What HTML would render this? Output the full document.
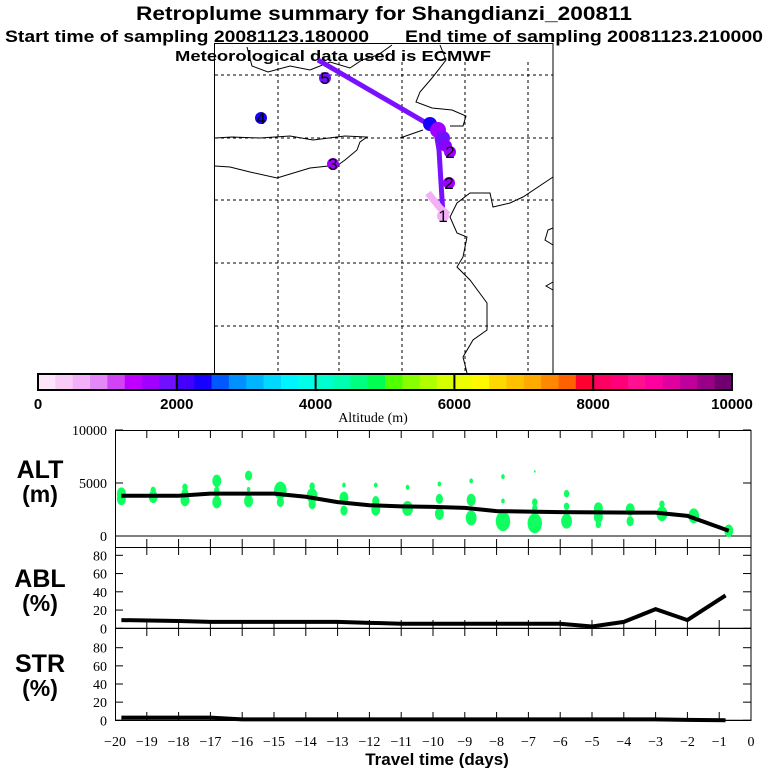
<!DOCTYPE html>
<html><head><meta charset="utf-8"><style>
html,body{margin:0;padding:0;background:#fff;}
svg{display:block;}
text{font-family:"Liberation Sans",sans-serif;}
.ser{font-family:"Liberation Serif",serif;font-size:14px;}
</style></head><body>
<svg id="chart" width="768" height="768" viewBox="0 0 768 768">
<g>
<text x="384" y="20" text-anchor="middle" font-size="19" font-weight="bold" textLength="496" lengthAdjust="spacingAndGlyphs">Retroplume summary for Shangdianzi_200811</text>
<text x="5" y="42" font-size="17" font-weight="bold" textLength="364" lengthAdjust="spacingAndGlyphs">Start time of sampling 20081123.180000</text>
<text x="405" y="42" font-size="17" font-weight="bold" textLength="358" lengthAdjust="spacingAndGlyphs">End time of sampling 20081123.210000</text>
<text x="333" y="61" text-anchor="middle" font-size="15" font-weight="bold" textLength="316" lengthAdjust="spacingAndGlyphs">Meteorological data used is ECMWF</text>
</g>
<g id="map"></g>
<g id="cbar"></g>
<g id="alt"></g>
<g id="abl"></g>
<g id="str"></g>
<g id="xaxis"></g>
</svg>
<script>
// ---- data ----
const days = [-20,-19,-18,-17,-16,-15,-14,-13,-12,-11,-10,-9,-8,-7,-6,-5,-4,-3,-2,-1,0];
const altTicks = [0,5000,10000];
const pctTicks = [0,20,40,60,80];
const altLineDays = [-19.8,-18,-17,-15,-14,-13,-12,-11,-10,-9,-8,-7,-6,-3,-2,-0.7];
const altLineVals = [3800,3800,4000,4000,3700,3200,2900,2800,2750,2650,2350,2300,2250,2200,1900,500];
const ablDays = [-19.8,-18,-17,-14,-13,-12,-11,-10,-8,-6,-5,-4,-3,-2,-0.8];
const ablVals = [9,8,7,7,7,6,5,5,5,5,2,7,21,9,36];
const strDays = [-19.8,-17,-16,-3,-2,-0.8];
const strVals = [3,3,1,1,0.5,0];
const dotDays = [-19.8,-19.8,-18.8,-18.8,-17.8,-17.8,-17.8,-16.8,-16.8,-16.8,-16.8,-15.8,-15.8,-15.8,-14.8,-14.8,-13.8,-13.8,-13.8,-12.8,-12.8,-12.8,-11.8,-11.8,-11.8,-10.8,-10.8,-9.8,-9.8,-9.8,-8.8,-8.8,-8.8,-7.8,-7.8,-7.8,-6.8,-6.8,-6.8,-6.8,-5.8,-5.8,-5.8,-4.8,-4.8,-4.8,-3.8,-3.8,-2.8,-2.8,-1.8,-0.7];
const dotAlts = [3500,4000,3700,4300,3400,4000,4600,5200,4300,3200,4000,5700,3300,4400,4300,3200,4700,3800,3000,4800,3600,2400,4800,3300,2500,4600,2600,4900,3500,2100,5200,3400,1700,5600,3300,1400,6100,3200,2600,1200,4000,2800,1400,2600,1800,1100,2500,1400,3000,2100,1900,500];
const dotSizes = [5,5,5,3,5,4,3,5,3,5,3,4,5,2,7,4,3,6,4,2,5,4,2,4,5,2,6,2,4,5,2,5,6,2,2,8,1,3,3,8,3,3,6,5,5,3,5,4,3,6,6,5];
const cbarLabels = [0,2000,4000,6000,8000,10000];
const cbarColors = ["#fde6fa","#f9ccf8","#f3b0f9","#e488f8","#d044f5","#c000ff","#a000ff","#7010ff","#4400ff","#1800ff","#0058ff","#0090ff","#00b4ff","#00d8ff","#00f4ff","#00ffe8","#00ffd0","#00ffb0","#00ff80","#00ff50","#50ff00","#88ff00","#b0ff00","#d8ff00","#ecff00","#fff800","#ffd800","#ffc000","#ffaa00","#ff8800","#ff6000","#ff0030","#ff0060","#ff0078","#ff1090","#ff00a0","#e000a0","#c0009a","#980088","#700070"];

const NS="http://www.w3.org/2000/svg";
function mk(parent,tag,attrs){const e=document.createElementNS(NS,tag);for(const k in attrs)e.setAttribute(k,attrs[k]);parent.appendChild(e);return e;}
function txt(parent,x,y,s,attrs){const t=mk(parent,'text',Object.assign({x:x,y:y},attrs));t.textContent=s;return t;}

const xS = d => 751 + d*31.8;
const yAlt = v => 536 - v*0.0106;
const yAbl = v => 628.3 - v*0.9125;
const yStr = v => 720.3 - v*0.9075;

// ---- map ----
const map=document.getElementById('map');
let el;
el=mk(map,'rect',{x:214.5,y:43.5,width:338.5,height:330,fill:'none',stroke:'#000','stroke-width':1});


[278,339,402,465,528].forEach(x=>{el=mk(map,'line',{x1:x,y1:62,x2:x,y2:373,stroke:'#000','stroke-dasharray':'3,3'});

});
[75,138,200,263,326].forEach(y=>{el=mk(map,'line',{x1:215,y1:y,x2:553,y2:y,stroke:'#000','stroke-dasharray':'3,3'});

});
const coasts=[
"247,47 252,66 268,72 290,66 310,70 330,62 350,68 362,60 378,55 392,45",
"440,45 446,60 432,78 420,92 416,102 432,108 452,110 466,116 463,126 450,126",
"215,138 232,137 260,138 290,136 313,140 345,136 367,137 360,142 357,150 345,160 338,165 310,168 277,178 250,172 230,167 215,166",
"400,138 423,130",
"553,177 523,197 510,203 493,207 490,193 470,193 457,203 450,217 457,233 467,237 463,257 457,267 470,280 487,303 487,330 473,340 463,357 467,373",
"553,245 545,240 548,230 553,228",
"553,282 546,286 553,290"];
coasts.forEach(p=>{el=mk(map,'polyline',{points:p,fill:'none',stroke:'#000','stroke-width':1});

});
el=mk(map,'polyline',{points:"318,60 428,124 436,132 439,150 443,215",fill:'none',stroke:'#7a10ff','stroke-width':5});


el=mk(map,'polyline',{points:"428,193 440,208 448,215",fill:'none',stroke:'#f3b0f9','stroke-width':7});


const cl=[[430,124,'#1800ff',7],[438,130,'#a000ff',8],[443,138,'#7010ff',7],[446,146,'#8a00ff',6]];
cl.forEach(c=>{el=mk(map,'circle',{cx:c[0],cy:c[1],r:c[3],fill:c[2]});

});
const markers=[[325,78,'5','#7010ff'],[261,118,'4','#1800ff'],[333,164,'3','#a000ff'],[450,152,'2','#a000ff'],[449,183,'2','#a000ff'],[443,216,'1','#f3b0f9']];
markers.forEach(m=>{el=mk(map,'circle',{cx:m[0],cy:m[1],r:6,fill:m[3]});


el=txt(map,m[0],m[1]+6,m[2],{'text-anchor':'middle','font-size':17,fill:'#000'});

});

// ---- colorbar ----
const cb=document.getElementById('cbar');
const cbx=38, cbw=694/40;
cbarColors.forEach((c,i)=>{el=mk(cb,'rect',{x:cbx+i*cbw,y:374,width:cbw+0.5,height:16,fill:c});

});
el=mk(cb,'rect',{x:cbx,y:374,width:694,height:16,fill:'none',stroke:'#000','stroke-width':2});


cbarLabels.forEach((v,i)=>{const x=cbx+v/10000*694;
if(i>0&&i<5){el=mk(cb,'line',{x1:x,y1:374,x2:x,y2:390,stroke:'#000','stroke-width':2});

}
el=txt(cb,x,409,String(v),{'text-anchor':'middle','font-size':15,'font-weight':'bold'});

});
el=txt(cb,373,422,'Altitude (m)',{'text-anchor':'middle',class:'ser','font-size':15});



// ---- panels ----
function frame(g,y0,y1){el=mk(g,'rect',{x:115.5,y:y0+0.5,width:635.5,height:y1-y0,fill:'none',stroke:'#000','stroke-width':1});


days.slice(1,20).forEach(d=>{const x=xS(d);
el=mk(g,'line',{x1:x,y1:y0,x2:x,y2:y0+8,stroke:'#000'});


el=mk(g,'line',{x1:x,y1:y1-8,x2:x,y2:y1,stroke:'#000'});

});}
function yt(g,ticks,yf,name){ticks.forEach(v=>{const y=yf(v);
el=mk(g,'line',{x1:115,y1:y,x2:123,y2:y,stroke:'#000'});


el=mk(g,'line',{x1:743,y1:y,x2:751,y2:y,stroke:'#000'});


el=txt(g,107,y+5,String(v),{'text-anchor':'end',class:'ser'});

});
el=mk(g,'line',{x1:115,y1:yf(0),x2:751,y2:yf(0),stroke:'#000'});

}
function ylab(g,a,b,y){el=txt(g,40,y,a,{'text-anchor':'middle','font-size':25,'font-weight':'bold'});


el=txt(g,40,y+24,b,{'text-anchor':'middle','font-size':23,'font-weight':'bold'});

}
function line(g,xs,vs,yf,name){el=mk(g,'polyline',{points:xs.map((d,i)=>xS(d)+','+yf(vs[i])).join(' '),fill:'none',stroke:'#000','stroke-width':4});

}

const ga=document.getElementById('alt');
frame(ga,430,547); yt(ga,altTicks,yAlt,'alt'); ylab(ga,'ALT','(m)',478);
dotDays.forEach((d,i)=>{el=mk(ga,'ellipse',{cx:xS(d),cy:yAlt(dotAlts[i]),rx:dotSizes[i]*0.9,ry:dotSizes[i]*1.25,fill:'#10ff60'});

});
line(ga,altLineDays,altLineVals,yAlt,'altitude-mean-line');

const gb=document.getElementById('abl');
frame(gb,547,628); yt(gb,pctTicks,yAbl,'abl'); ylab(gb,'ABL','(%)',587);
line(gb,ablDays,ablVals,yAbl,'abl-fraction-line');

const gs=document.getElementById('str');
frame(gs,628,720); yt(gs,pctTicks,yStr,'str'); ylab(gs,'STR','(%)',672);
line(gs,strDays,strVals,yStr,'str-fraction-line');

const gx=document.getElementById('xaxis');
days.forEach(d=>{el=txt(gx,xS(d),746,(d<0?'\u2212':'')+Math.abs(d),{'text-anchor':'middle',class:'ser'});

});
el=txt(gx,437,765,'Travel time (days)',{'text-anchor':'middle','font-size':17,'font-weight':'bold'});


</script>
</body></html>
